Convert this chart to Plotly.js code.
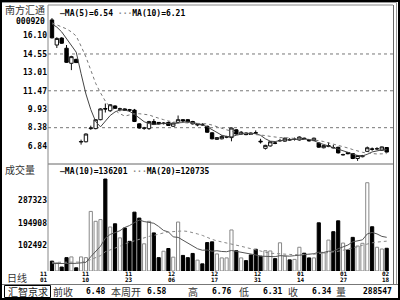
<!DOCTYPE html>
<html><head><meta charset="utf-8">
<script src="https://cdn.plot.ly/plotly-3.0.1.min.js"></script>
<style>html,body{margin:0;padding:0;background:#fff;}#chart{width:400px;height:300px;}</style>
</head><body><div id="chart"></div>
<script>
// ---- data ----
const open  = [17.40,15.30,15.88,15.03,13.77,14.10,7.18,7.20,8.30,8.30,
               9.05,9.98,9.80,10.20,9.93,9.95,9.88,9.85,8.70,8.33,
               8.30,8.90,8.82,8.72,8.82,8.50,8.80,9.05,9.05,8.90,
               8.60,8.66,8.50,7.95,7.40,7.45,7.58,7.55,8.20,7.85,
               7.93,7.93,7.96,7.25,6.65,6.85,7.10,7.28,7.25,7.38,
               7.40,7.35,7.50,7.38,7.30,7.10,6.70,6.80,6.72,6.74,
               6.10,6.30,6.21,5.80,5.95,6.40,6.60,6.60,6.49,6.72];
const high  = [17.55,15.95,15.95,15.30,14.40,14.15,7.38,7.90,8.55,9.10,
               10.00,10.40,10.35,10.25,10.05,10.00,9.95,9.95,8.75,8.45,
               8.95,9.10,8.85,8.85,8.90,8.80,9.40,9.10,9.10,8.95,
               8.75,8.75,8.55,8.00,7.60,7.75,7.70,8.40,8.25,8.10,
               7.98,7.98,8.15,7.45,6.95,7.25,7.20,7.45,7.55,7.50,
               7.55,7.65,7.55,7.42,7.55,7.15,6.95,7.15,6.95,6.78,
               6.20,6.35,6.25,6.10,6.10,6.80,6.72,6.75,6.80,6.76];
const low   = [15.85,15.05,15.40,13.80,13.20,13.80,6.96,7.15,8.20,8.25,
               9.00,9.65,9.70,9.95,9.75,9.80,9.70,8.85,8.30,8.20,
               8.20,8.60,8.65,8.65,8.55,8.45,8.75,8.85,8.80,8.65,
               8.50,8.55,7.95,7.40,7.35,7.40,7.50,7.24,7.80,7.80,
               7.75,7.78,7.85,7.05,6.55,6.80,7.00,7.20,7.20,7.30,
               7.30,7.30,7.35,7.22,7.25,6.70,6.65,6.75,6.65,6.22,
               6.05,6.15,5.75,5.60,5.90,6.35,6.45,6.50,6.45,6.31];
const close = [15.90,15.85,15.45,13.85,14.33,13.83,7.22,7.85,8.35,9.05,
               9.95,9.95,10.30,10.00,9.96,9.85,9.85,8.90,8.35,8.35,
               8.90,8.65,8.70,8.76,8.57,8.77,9.05,8.95,8.85,8.70,
               8.68,8.62,8.00,7.45,7.55,7.65,7.62,8.35,7.85,8.00,
               7.80,7.82,7.93,7.20,6.90,7.20,7.08,7.30,7.50,7.36,
               7.42,7.60,7.40,7.28,7.50,6.75,6.88,6.88,6.70,6.27,
               6.13,6.20,5.80,6.05,6.05,6.70,6.58,6.62,6.77,6.34];
const volume = [40000,33000,16000,54000,57000,13000,57000,54000,241000,201000,
                208000,372000,178000,191000,134000,174000,120000,238000,214000,110000,
                201000,154000,54000,80000,91000,56000,198000,63000,54000,71000,
                44000,29000,115000,118000,69000,53000,53000,166000,82000,53000,
                42000,65000,88000,60000,82000,81000,50000,114000,60000,45000,
                47000,96000,72000,53000,53000,195000,73000,125000,159000,203000,
                113000,85000,136000,101000,112000,357000,179000,96000,89000,92000];
const ma5  = [17.06,16.80,16.40,15.85,15.20,14.70,12.90,11.20,9.90,8.90,
              8.45,8.95,9.40,9.70,9.86,9.85,9.75,9.50,9.15,8.88,
              8.72,8.66,8.68,8.75,8.72,8.70,8.78,8.85,8.88,8.82,
              8.72,8.62,8.45,8.20,7.95,7.75,7.65,7.62,7.75,7.85,
              7.92,7.90,7.88,7.74,7.45,7.25,7.22,7.30,7.35,7.38,
              7.40,7.42,7.43,7.40,7.30,7.10,6.98,6.85,6.68,6.55,
              6.45,6.35,6.18,6.05,6.02,6.15,6.35,6.45,6.52,6.54];
const ma10 = [17.15,17.00,16.85,16.65,16.40,16.05,15.20,14.30,13.20,12.10,
              11.30,10.60,10.10,9.80,9.55,9.35,9.45,9.55,9.55,9.50,
              9.45,9.30,9.15,9.05,8.95,8.85,8.82,8.80,8.80,8.78,
              8.77,8.76,8.70,8.60,8.45,8.30,8.20,8.10,8.00,7.90,
              7.88,7.85,7.82,7.78,7.72,7.65,7.58,7.55,7.55,7.52,
              7.50,7.48,7.45,7.42,7.38,7.30,7.22,7.12,7.02,6.92,
              6.80,6.68,6.55,6.42,6.32,6.25,6.20,6.18,6.19,6.21];
const volMa10 = [30000,30000,29000,30000,32000,31000,33000,35000,58000,78000,
                 100000,133000,148000,155000,163000,176000,184000,196000,206000,200000,
                 198000,193000,180000,164000,158000,138000,136000,125000,112000,100000,
                 90000,84000,85000,80000,82000,79000,78000,83000,80000,74000,
                 72000,68000,65000,60000,60000,58000,58000,62000,60000,60000,
                 62000,64000,66000,68000,70000,76000,75000,80000,80000,90000,
                 96000,105000,118000,122000,126000,150000,156000,150000,140000,136201];
const volMa20 = [35000,35000,34000,35000,36000,35000,36000,38000,46000,55000,
                 62000,78000,85000,95000,100000,110000,116000,124000,128000,136000,
                 140000,144000,150000,154000,158000,160000,162000,162000,160000,156000,
                 150000,144000,135000,128000,122000,118000,112000,108000,104000,100000,
                 95000,90000,85000,78000,76000,72000,70000,70000,68000,67000,
                 66000,66000,66000,68000,68000,70000,72000,74000,78000,80000,
                 84000,88000,92000,98000,104000,110000,114000,117000,119000,120735];

const priceTicks    = [16.10, 14.55, 13.01, 11.47, 9.93, 8.38, 6.84];
const priceTickText = ['16.10','14.55','13.01','11.47','9.93','8.38','6.84'];
const gridVals      = [14.55, 11.47, 8.38];
const volTicks      = [287323, 194908, 102492];
const volTickText   = ['287323','194908','102492'];
const dateTickVals  = [7.0, 15.9, 24.7, 33.6, 42.5, 51.3, 60.2, 68.9];
const dateMonths    = ['11','11','12','12','12','01','01','02'];
const dateDays      = ['10','23','06','17','31','14','27','18'];
const firstDatePos  = -1.65;
const firstMonth    = '11';
const firstDay      = '01';

const stockName = '南方汇通';
const stockCode = '000920';
const infoLabels = ['前收','本周开','高','低','收','量'];
const infoValues = ['6.48','6.58','6.76','6.31','6.34','288547'];

// ---- geometry helpers (pixel -> paper) ----
const L = 48, R = 7, T = 5, B = 29, W = 400, H = 300;
const PW = W - L - R, PH = H - T - B;
const px = v => (v - L) / PW;
const py = v => (H - B - v) / PH;
const splitY = py(164);
const xRange = [-0.82, 70.3];

const MONO = '"DejaVu Sans Mono", "Liberation Mono", monospace';
const CJK = '"Noto Sans CJK SC", "Noto Sans CJK JP", sans-serif';

const idx = close.map((_, i) => i);
const isUp = close.map((c, i) => c >= open[i]);

const traces = [
  {type: 'candlestick', x: idx, open: open, high: high, low: low, close: close,
   xaxis: 'x', yaxis: 'y', whiskerwidth: 0,
   increasing: {line: {color: '#111', width: 1}, fillcolor: '#ffffff'},
   decreasing: {line: {color: '#000', width: 1}, fillcolor: '#000000'},
   hoverinfo: 'skip'},
  {type: 'scatter', mode: 'lines', x: idx, y: ma5, xaxis: 'x', yaxis: 'y',
   line: {color: '#444', width: 1}, hoverinfo: 'skip'},
  {type: 'scatter', mode: 'lines', x: idx, y: ma10, xaxis: 'x', yaxis: 'y',
   line: {color: '#777', width: 1, dash: 'dot'}, hoverinfo: 'skip'},
  {type: 'bar', x: idx, y: volume, xaxis: 'x', yaxis: 'y2', width: 0.65,
   marker: {color: isUp.map(u => u ? '#ffffff' : '#000000'),
            line: {color: isUp.map(u => u ? '#888' : '#000'), width: 1}},
   hoverinfo: 'skip'},
  {type: 'scatter', mode: 'lines', x: idx, y: volMa10, xaxis: 'x', yaxis: 'y2',
   line: {color: '#555', width: 1}, hoverinfo: 'skip'},
  {type: 'scatter', mode: 'lines', x: idx, y: volMa20, xaxis: 'x', yaxis: 'y2',
   line: {color: '#888', width: 1, dash: 'dot'}, hoverinfo: 'skip'}
];

const tickFont = {family: MONO, size: 8, color: '#000', weight: 700};
const dateFont = {family: MONO, size: 6, color: '#000', weight: 700};

const shapes = [];
gridVals.forEach(v => shapes.push({type: 'line', xref: 'paper', yref: 'y', x0: 0, x1: 1, y0: v, y1: v,
  line: {color: '#777', width: 1, dash: 'dot'}, layer: 'below'}));
shapes.push({type: 'line', xref: 'paper', yref: 'paper', x0: 0, x1: 1, y0: splitY, y1: splitY, line: {color: '#666', width: 1}});
shapes.push({type: 'line', xref: 'paper', yref: 'paper', x0: 0, x1: 0, y0: 0, y1: 1, line: {color: '#888', width: 1}});
shapes.push({type: 'line', xref: 'paper', yref: 'paper', x0: 0, x1: 1, y0: 1, y1: 1, line: {color: '#888', width: 1}});
shapes.push({type: 'line', xref: 'paper', yref: 'paper', x0: px(393.5), x1: px(393.5), y0: py(284), y1: py(5), line: {color: '#666', width: 1}});
shapes.push({type: 'line', xref: 'paper', yref: 'paper', x0: px(396.5), x1: px(396.5), y0: py(284), y1: py(2.5), line: {color: '#999', width: 1}});
shapes.push({type: 'line', xref: 'paper', yref: 'paper', x0: px(2), x1: px(396.5), y0: py(2.5), y1: py(2.5), line: {color: '#999', width: 1}});
shapes.push({type: 'line', xref: 'paper', yref: 'paper', x0: px(2), x1: px(398), y0: py(284.5), y1: py(284.5), line: {color: '#777', width: 1}});
shapes.push({type: 'rect', xref: 'paper', yref: 'paper', x0: px(4.5), x1: px(50.5), y0: py(297.5), y1: py(285.5), line: {color: '#000', width: 1}});
shapes.push({type: 'rect', xref: 'paper', yref: 'paper', x0: px(1), x1: px(399), y0: py(299), y1: py(1), line: {color: '#000', width: 2}});

const ann = [];
const A = (text, x, y, xanchor, font, xref) => ann.push({text, x, y, xref: xref || 'paper', yref: 'paper',
  xanchor: xanchor, yanchor: 'middle', showarrow: false, font: font, borderpad: 0});
const monoB = {family: MONO, size: 8, color: '#000', weight: 700};
const cjkF = {family: CJK, size: 10, color: '#333'};

A(stockName, px(4), py(9.5), 'left', cjkF);
A(stockCode, px(46), py(21), 'right', monoB);
A('<span style="color:#444">—</span>MA(5)=' + ma5[ma5.length-1].toFixed(2) +
  ' <span style="color:#888">···</span>MA(10)=' + ma10[ma10.length-1].toFixed(2), px(59), py(13), 'left', monoB);
A('成交量', px(4), py(169), 'left', cjkF);
A('<span style="color:#444">—</span>MA(10)=' + volMa10[volMa10.length-1] +
  ' <span style="color:#888">···</span>MA(20)=' + volMa20[volMa20.length-1], px(59), py(171), 'left', monoB);
A('日线', px(6), py(277.5), 'left', cjkF);
// date labels: month row and day row, placed on the x axis scale
dateTickVals.forEach((v, i) => A(dateMonths[i], v, py(273.6), 'center', dateFont, 'x'));
dateTickVals.forEach((v, i) => A(dateDays[i], v, py(279.4), 'center', dateFont, 'x'));
const firstP = (firstDatePos - xRange[0]) / (xRange[1] - xRange[0]);
A(firstMonth, firstP, py(273.6), 'center', dateFont);
A(firstDay, firstP, py(279.4), 'center', dateFont);
A('汇智京求', px(27.5), py(291.5), 'center', {family: CJK, size: 10, color: '#222'});
const labelX = [62.5, 126, 193, 244, 293, 341];
const valueX = [95.5, 156.5, 221, 272.5, 321, 377];
infoLabels.forEach((t, i) => A(t, px(labelX[i]), py(291.5), 'center', cjkF));
infoValues.forEach((t, i) => A(t, px(valueX[i]), py(291.5), 'center', monoB));

const layout = {
  width: W, height: H, margin: {l: L, r: R, t: T, b: B, pad: 0},
  paper_bgcolor: '#fff', plot_bgcolor: '#fff', showlegend: false,
  boxgap: 0.3, boxgroupgap: 0, bargap: 0,
  xaxis: {domain: [0, 1], range: xRange, anchor: 'y2', showgrid: false, zeroline: false,
          showline: false, ticks: '', showticklabels: false,
          rangeslider: {visible: false}, fixedrange: true},
  yaxis: {domain: [splitY, 1], range: [5.34, 18.65], anchor: 'x', showgrid: false, zeroline: false,
          showline: false, ticks: '', tickvals: priceTicks, ticktext: priceTickText,
          tickfont: tickFont, fixedrange: true},
  yaxis2: {domain: [0, splitY], range: [0, 432760], anchor: 'x', showgrid: false, zeroline: false,
           showline: false, ticks: '', tickvals: volTicks, ticktext: volTickText,
           tickfont: tickFont, fixedrange: true},
  shapes: shapes, annotations: ann
};

Plotly.newPlot('chart', traces, layout, {staticPlot: true, displayModeBar: false});
</script></body></html>
